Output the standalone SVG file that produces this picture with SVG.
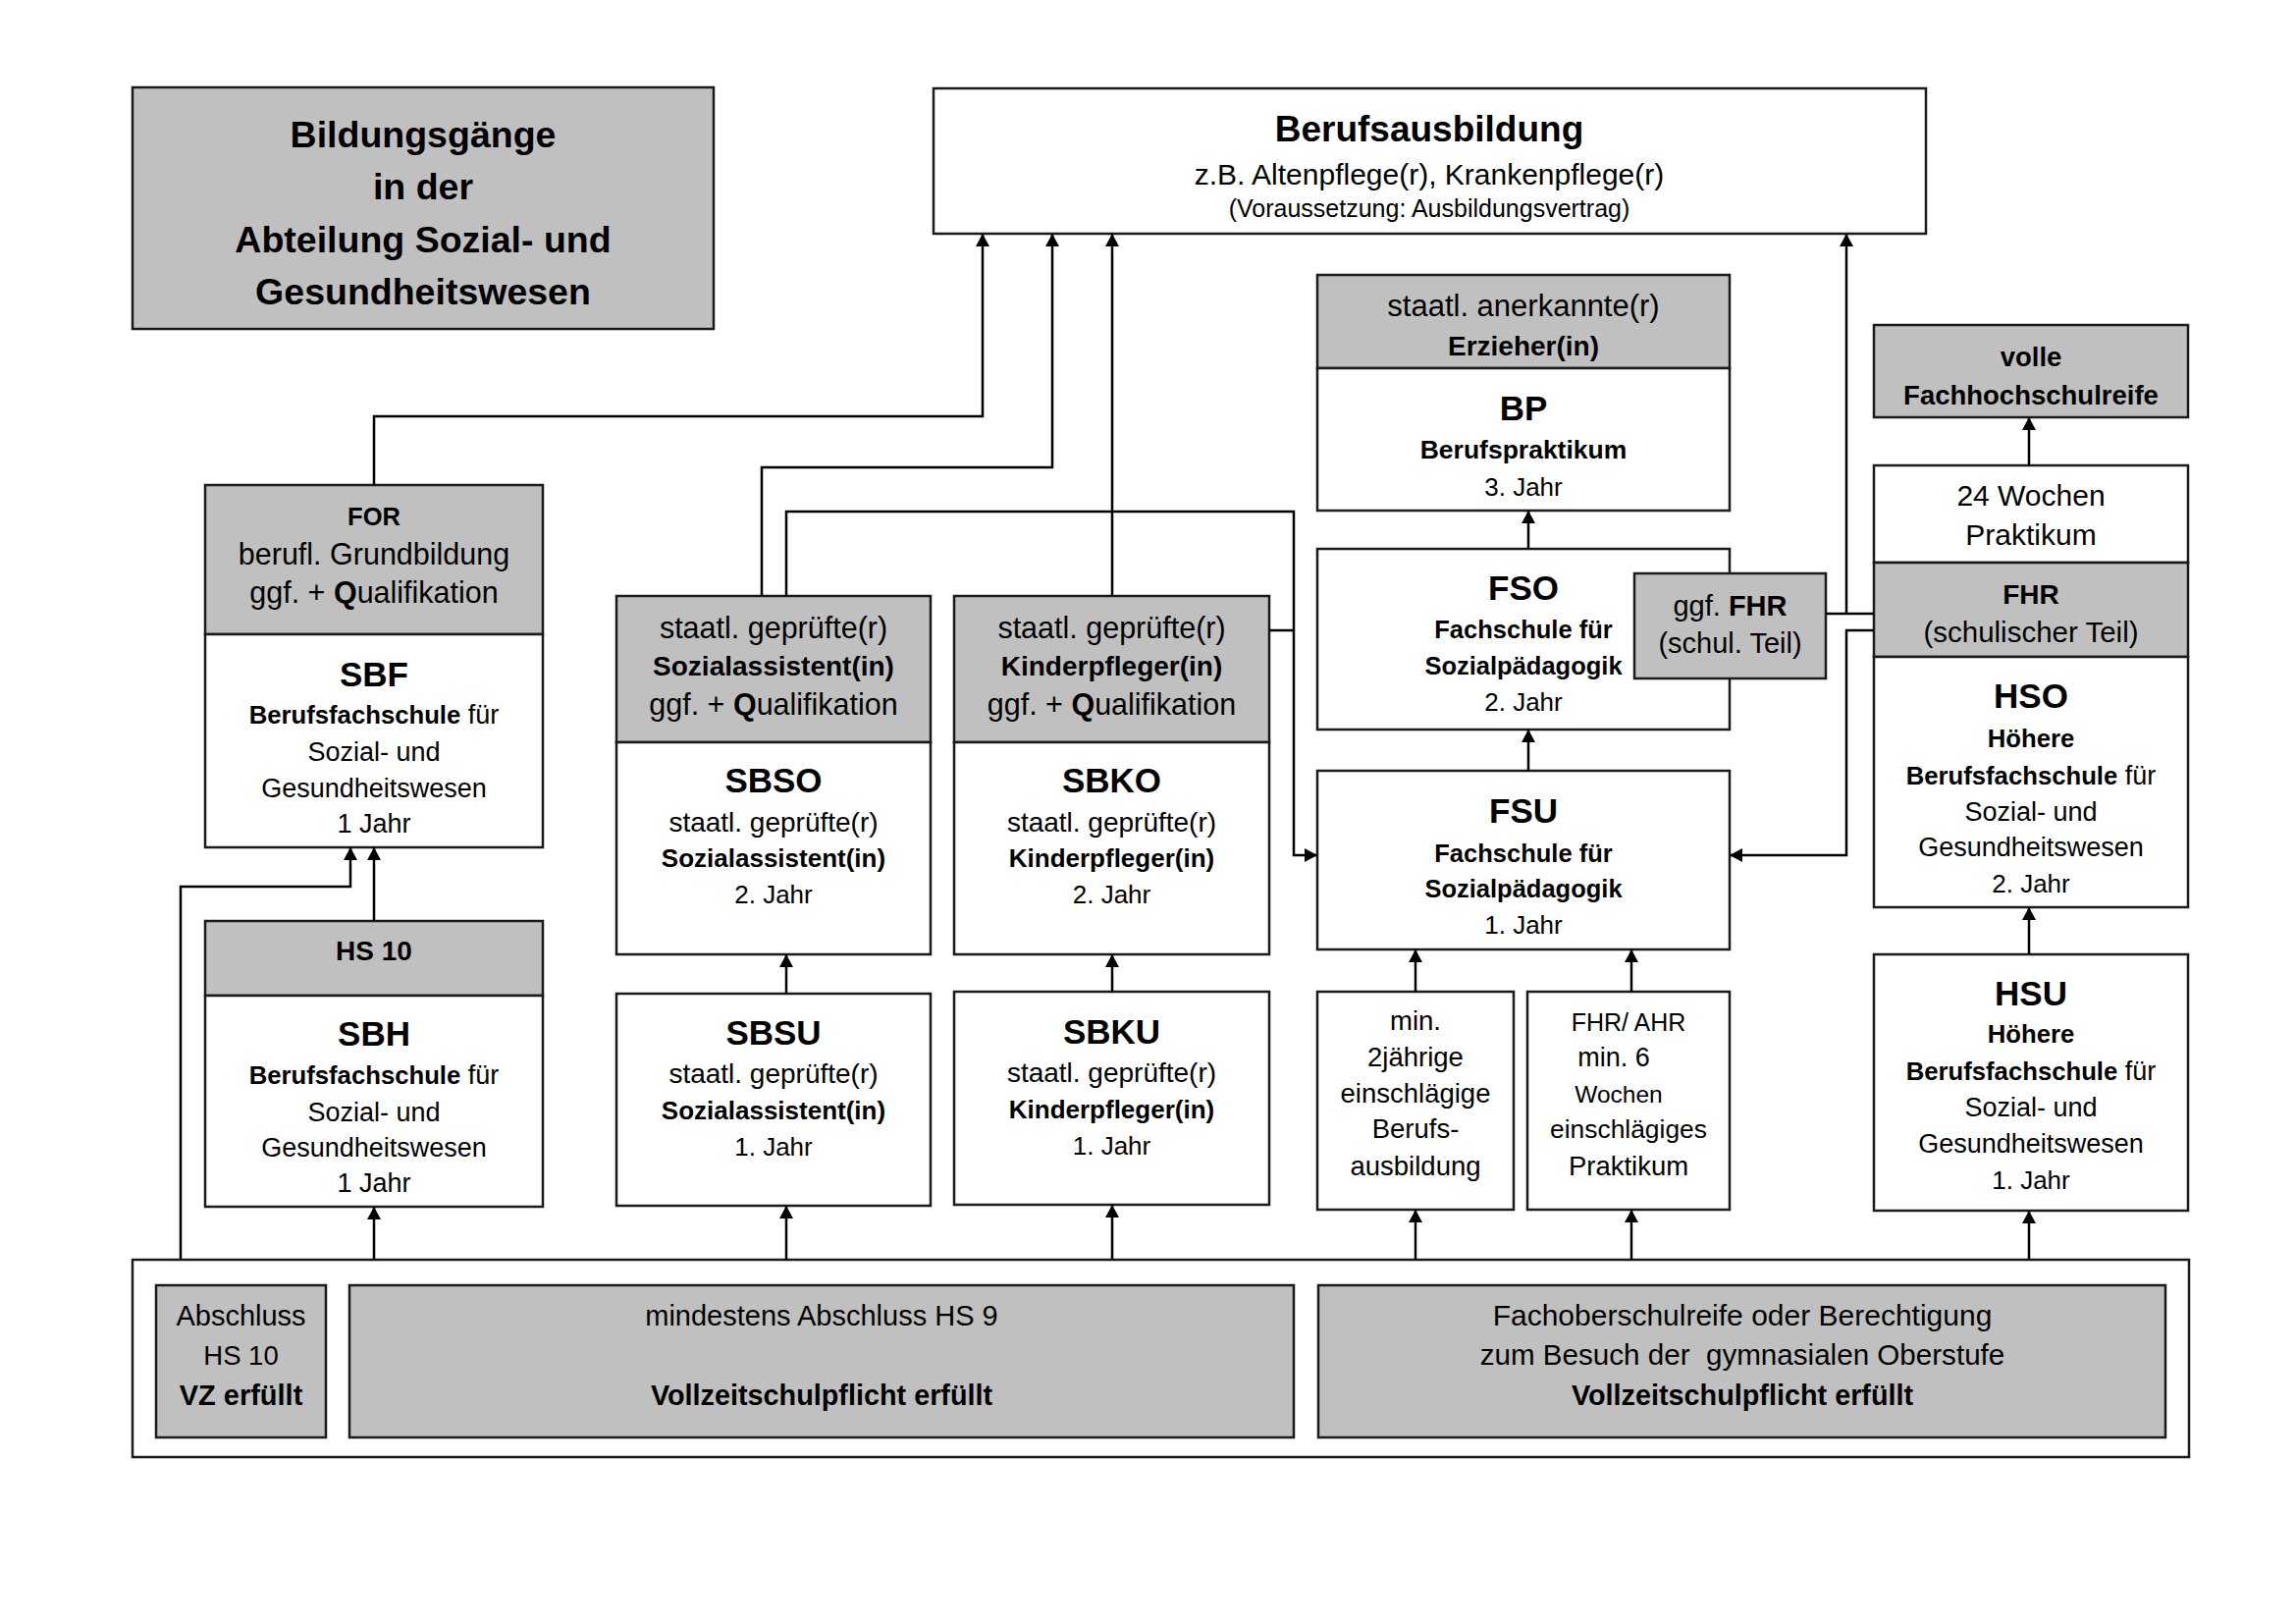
<svg xmlns="http://www.w3.org/2000/svg" width="2339" height="1654" viewBox="0 0 2339 1654">
<defs>
<style>
.box{fill:#fff;stroke:#1a1a1a;stroke-width:2.5}
.gray{fill:#c0c0c0;stroke:#1a1a1a;stroke-width:2.5}
text{font-family:'Liberation Sans',Arial,sans-serif;text-anchor:middle;fill:#000}
.b{font-weight:bold}
.big{font-size:35px;font-weight:bold}
.h{font-size:30.5px}
.hb{font-size:28px;font-weight:bold}
.r{font-size:27px}
.rb{font-size:25.7px;font-weight:bold}
.r2{font-size:28px}
.rb2{font-size:26px;font-weight:bold}
.y{font-size:26px}
.con{fill:none;stroke:#000;stroke-width:2.5}
.arr{marker-end:url(#ah)}
</style>
<marker id="ah" markerWidth="13" markerHeight="14" refX="13" refY="7" orient="auto" markerUnits="userSpaceOnUse" viewBox="0 0 13 14"><path d="M0,0 L13,7 L0,14 z" fill="#000"/></marker>
</defs>
<rect width="2339" height="1654" fill="#fff"/>

<g id="title">
<rect class="gray" x="135" y="89" width="592" height="246"/>
<text class="b" font-size="37.5" x="431" y="150">Bildungsgänge</text>
<text class="b" font-size="37.5" x="431" y="203">in der</text>
<text class="b" font-size="37.5" x="431" y="257">Abteilung Sozial- und</text>
<text class="b" font-size="37.5" x="431" y="310">Gesundheitswesen</text>
</g>

<g id="berufsausbildung">
<rect class="box" x="951" y="90" width="1011" height="148"/>
<text class="b" font-size="37" x="1456" y="144">Berufsausbildung</text>
<text font-size="30" x="1456" y="188">z.B. Altenpflege(r), Krankenpflege(r)</text>
<text font-size="25" x="1456" y="221">(Voraussetzung: Ausbildungsvertrag)</text>
</g>

<g id="for-sbf">
<rect class="gray" x="209" y="494" width="344" height="152"/>
<rect class="box" x="209" y="646" width="344" height="217"/>
<text class="b" font-size="25.5" x="381" y="535">FOR</text>
<text class="h" x="381" y="575">berufl. Grundbildung</text>
<text class="h" x="381" y="614">ggf. + <tspan class="b">Q</tspan>ualifikation</text>
<text class="big" x="381" y="699">SBF</text>
<text class="r" x="381" y="737"><tspan class="rb">Berufsfachschule</tspan> für</text>
<text class="r" x="381" y="775">Sozial- und</text>
<text class="r" x="381" y="812">Gesundheitswesen</text>
<text class="r" x="381" y="848">1 Jahr</text>
</g>

<g id="hs10-sbh">
<rect class="gray" x="209" y="938" width="344" height="76"/>
<rect class="box" x="209" y="1014" width="344" height="215"/>
<text class="hb" x="381" y="978">HS 10</text>
<text class="big" x="381" y="1065">SBH</text>
<text class="r" x="381" y="1104"><tspan class="rb">Berufsfachschule</tspan> für</text>
<text class="r" x="381" y="1142">Sozial- und</text>
<text class="r" x="381" y="1178">Gesundheitswesen</text>
<text class="r" x="381" y="1214">1 Jahr</text>
</g>

<g id="sbso">
<rect class="gray" x="628" y="607" width="320" height="149"/>
<rect class="box" x="628" y="756" width="320" height="216"/>
<text class="h" x="788" y="650">staatl. geprüfte(r)</text>
<text class="hb" x="788" y="688">Sozialassistent(in)</text>
<text class="h" x="788" y="728">ggf. + <tspan class="b">Q</tspan>ualifikation</text>
<text class="big" x="788" y="807">SBSO</text>
<text class="r2" x="788" y="847">staatl. geprüfte(r)</text>
<text class="rb2" x="788" y="883">Sozialassistent(in)</text>
<text class="y" x="788" y="920">2. Jahr</text>
</g>

<g id="sbko">
<rect class="gray" x="972" y="607" width="321" height="149"/>
<rect class="box" x="972" y="756" width="321" height="216"/>
<text class="h" x="1132.5" y="650">staatl. geprüfte(r)</text>
<text class="hb" x="1132.5" y="688">Kinderpfleger(in)</text>
<text class="h" x="1132.5" y="728">ggf. + <tspan class="b">Q</tspan>ualifikation</text>
<text class="big" x="1132.5" y="807">SBKO</text>
<text class="r2" x="1132.5" y="847">staatl. geprüfte(r)</text>
<text class="rb2" x="1132.5" y="883">Kinderpfleger(in)</text>
<text class="y" x="1132.5" y="920">2. Jahr</text>
</g>

<g id="sbsu">
<rect class="box" x="628" y="1012" width="320" height="216"/>
<text class="big" x="788" y="1064">SBSU</text>
<text class="r2" x="788" y="1103">staatl. geprüfte(r)</text>
<text class="rb2" x="788" y="1140">Sozialassistent(in)</text>
<text class="y" x="788" y="1177">1. Jahr</text>
</g>

<g id="sbku">
<rect class="box" x="972" y="1010" width="321" height="217"/>
<text class="big" x="1132.5" y="1063">SBKU</text>
<text class="r2" x="1132.5" y="1102">staatl. geprüfte(r)</text>
<text class="rb2" x="1132.5" y="1139">Kinderpfleger(in)</text>
<text class="y" x="1132.5" y="1176">1. Jahr</text>
</g>

<g id="bp">
<rect class="gray" x="1342" y="280" width="420" height="95"/>
<rect class="box" x="1342" y="375" width="420" height="145"/>
<text font-size="31" x="1552" y="322">staatl. anerkannte(r)</text>
<text class="hb" x="1552" y="362">Erzieher(in)</text>
<text class="big" x="1552" y="428">BP</text>
<text class="b" font-size="26.5" x="1552" y="467">Berufspraktikum</text>
<text class="y" x="1552" y="505">3. Jahr</text>
</g>

<g id="fso">
<rect class="box" x="1342" y="559" width="420" height="184"/>
<text class="big" x="1552" y="611">FSO</text>
<text class="b" font-size="25.5" x="1552" y="650">Fachschule für</text>
<text class="b" font-size="25.5" x="1552" y="687">Sozialpädagogik</text>
<text class="y" x="1552" y="724">2. Jahr</text>
</g>

<g id="ggf-fhr">
<rect class="gray" x="1665" y="584" width="195" height="107"/>
<text font-size="29" x="1762.5" y="627">ggf. <tspan class="b">FHR</tspan></text>
<text font-size="29" x="1762.5" y="665">(schul. Teil)</text>
</g>

<g id="fsu">
<rect class="box" x="1342" y="785" width="420" height="182"/>
<text class="big" x="1552" y="838">FSU</text>
<text class="b" font-size="25.5" x="1552" y="878">Fachschule für</text>
<text class="b" font-size="25.5" x="1552" y="914">Sozialpädagogik</text>
<text class="y" x="1552" y="951">1. Jahr</text>
</g>

<g id="berufsausbildung-min">
<rect class="box" x="1342" y="1010" width="200" height="222"/>
<text font-size="27.5" x="1442" y="1049">min.</text>
<text font-size="27.5" x="1442" y="1086">2jährige</text>
<text font-size="27.5" x="1442" y="1123">einschlägige</text>
<text font-size="27.5" x="1442" y="1159">Berufs-</text>
<text font-size="27.5" x="1442" y="1197">ausbildung</text>
</g>

<g id="fhr-ahr">
<rect class="box" x="1556" y="1010" width="206" height="222"/>
<text font-size="25" x="1659" y="1050">FHR/ AHR</text>
<text font-size="27" x="1644" y="1086">min. 6</text>
<text font-size="24.5" x="1649" y="1123">Wochen</text>
<text font-size="26.4" x="1659" y="1159">einschlägiges</text>
<text font-size="27.5" x="1659" y="1197">Praktikum</text>
</g>

<g id="volle-fhr">
<rect class="gray" x="1909" y="331" width="320" height="94"/>
<text class="b" font-size="27.5" x="2069" y="373">volle</text>
<text class="b" font-size="27.5" x="2069" y="412">Fachhochschulreife</text>
</g>

<g id="praktikum24">
<rect class="box" x="1909" y="474" width="320" height="99"/>
<text font-size="30" x="2069" y="515">24 Wochen</text>
<text font-size="30" x="2069" y="555">Praktikum</text>
</g>

<g id="hso">
<rect class="gray" x="1909" y="573" width="320" height="96"/>
<rect class="box" x="1909" y="669" width="320" height="255"/>
<text class="hb" x="2069" y="615">FHR</text>
<text font-size="29.5" x="2069" y="654">(schulischer Teil)</text>
<text class="big" x="2069" y="721">HSO</text>
<text class="rb" x="2069" y="761">Höhere</text>
<text class="r" x="2069" y="799"><tspan class="rb">Berufsfachschule</tspan> für</text>
<text class="r" x="2069" y="836">Sozial- und</text>
<text class="r" x="2069" y="872">Gesundheitswesen</text>
<text class="y" x="2069" y="909">2. Jahr</text>
</g>

<g id="hsu">
<rect class="box" x="1909" y="972" width="320" height="261"/>
<text class="big" x="2069" y="1024">HSU</text>
<text class="rb" x="2069" y="1062">Höhere</text>
<text class="r" x="2069" y="1100"><tspan class="rb">Berufsfachschule</tspan> für</text>
<text class="r" x="2069" y="1137">Sozial- und</text>
<text class="r" x="2069" y="1174">Gesundheitswesen</text>
<text class="y" x="2069" y="1211">1. Jahr</text>
</g>

<g id="voraussetzungen">
<rect class="box" x="135" y="1283" width="2095" height="201"/>
<rect class="gray" x="159" y="1309" width="173" height="155"/>
<rect class="gray" x="356" y="1309" width="962" height="155"/>
<rect class="gray" x="1343" y="1309" width="863" height="155"/>
<text font-size="29" x="245.5" y="1350">Abschluss</text>
<text font-size="27.5" x="245.5" y="1390">HS 10</text>
<text class="b" font-size="29" x="245.5" y="1431">VZ erfüllt</text>
<text font-size="29" x="837" y="1350">mindestens Abschluss HS 9</text>
<text class="b" font-size="28.8" x="837" y="1431">Vollzeitschulpflicht erfüllt</text>
<text font-size="30" x="1775" y="1350">Fachoberschulreife oder Berechtigung</text>
<text font-size="29.6" x="1775" y="1390" xml:space="preserve" style="white-space:pre">zum Besuch der  gymnasialen Oberstufe</text>
<text class="b" font-size="28.8" x="1775" y="1431">Vollzeitschulpflicht erfüllt</text>
</g>

<g id="connectors">
<path class="con arr" d="M381,494 V424 H1001 V238"/>
<path class="con arr" d="M776,607 V476 H1072 V238"/>
<path class="con arr" d="M801,607 V521 H1318 V871 H1342"/>
<path class="con arr" d="M1133,607 V238"/>
<path class="con" d="M1293,642 H1318"/>
<path class="con" d="M1860,625 H1909"/>
<path class="con arr" d="M1881,625 V238"/>
<path class="con arr" d="M1909,642 H1881 V871 H1762"/>
<path class="con arr" d="M381,938 V863"/>
<path class="con arr" d="M381,1283 V1229"/>
<path class="con arr" d="M184,1283 V903 H357 V863"/>
<path class="con arr" d="M801,1283 V1228"/>
<path class="con arr" d="M801,1012 V972"/>
<path class="con arr" d="M1133,1283 V1227"/>
<path class="con arr" d="M1133,1010 V972"/>
<path class="con arr" d="M1442,1283 V1232"/>
<path class="con arr" d="M1442,1010 V967"/>
<path class="con arr" d="M1662,1283 V1232"/>
<path class="con arr" d="M1662,1010 V967"/>
<path class="con arr" d="M2067,1283 V1233"/>
<path class="con arr" d="M2067,972 V924"/>
<path class="con arr" d="M2067,474 V425"/>
<path class="con arr" d="M1557,785 V743"/>
<path class="con arr" d="M1557,559 V520"/>
</g>
</svg>
